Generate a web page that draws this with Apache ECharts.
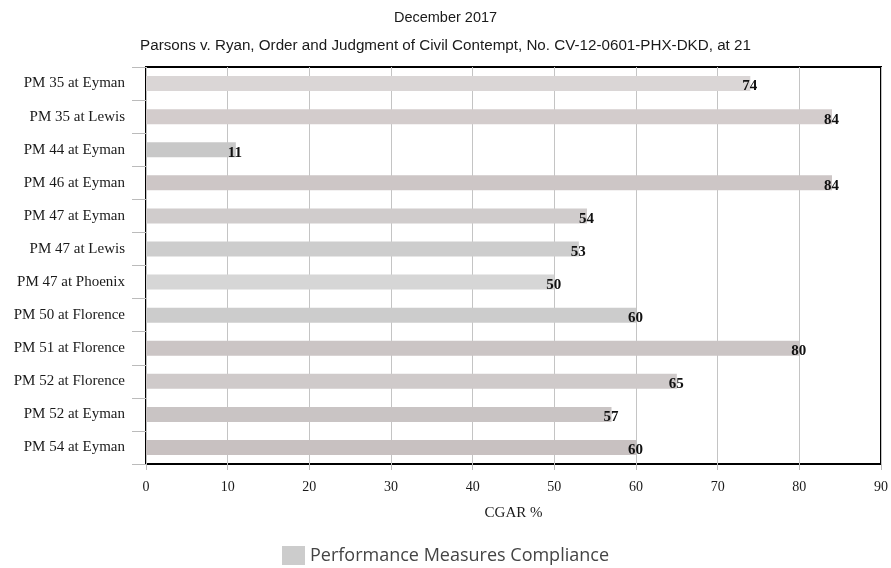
<!DOCTYPE html>
<html>
<head>
<meta charset="utf-8">
<script src="https://cdn.jsdelivr.net/npm/echarts@6/dist/echarts.min.js"></script>
<style>html,body{margin:0;padding:0;background:#fff}#c{width:891px;height:568px}</style>
</head>
<body>
<div id="c"></div>
<script>
var categories = ["PM 35 at Eyman","PM 35 at Lewis","PM 44 at Eyman","PM 46 at Eyman","PM 47 at Eyman","PM 47 at Lewis","PM 47 at Phoenix","PM 50 at Florence","PM 51 at Florence","PM 52 at Florence","PM 52 at Eyman","PM 54 at Eyman"];
var values = [74,84,11,84,54,53,50,60,80,65,57,60];
var barColors = ["#dad6d6","#d3cccc","#c8c8c8","#cdc6c6","#d0cccc","#cdcdcd","#d6d6d6","#cccccc","#cbc5c5","#cfcaca","#c9c4c4","#c8c1c1"];
var seriesName = "Performance Measures Compliance";

var chart = echarts.init(document.getElementById('c'));
var serif = '"Liberation Serif", "Times New Roman", serif';
var sans = '"Liberation Sans", Arial, sans-serif';
chart.setOption({
  animation: false,
  backgroundColor: '#fff',
  title: [
    {text: 'December 2017', left: 'center', top: 5, textStyle: {fontFamily: sans, fontSize: 14.5, fontWeight: 'normal', color: '#1a1a1a'}},
    {text: 'Parsons v. Ryan, Order and Judgment of Civil Contempt, No. CV-12-0601-PHX-DKD, at 21', left: 'center', top: 33, textStyle: {fontFamily: sans, fontSize: 15.2, fontWeight: 'normal', color: '#1a1a1a'}}
  ],
  legend: {
    bottom: -2, left: 'center',
    itemWidth: 23, itemHeight: 19, itemGap: 10, icon: 'rect',
    data: [{name: seriesName, itemStyle: {color: '#cccccc'}}],
    textStyle: {fontFamily: '"Open Sans", "DejaVu Sans", sans-serif', fontSize: 18, color: '#444'}
  },
  grid: {left: 146, right: 8, top: 67, bottom: 104, show: true, borderColor: '#000', borderWidth: 2, containLabel: false},
  xAxis: {
    type: 'value', min: 0, max: 90, interval: 10,
    name: 'CGAR %', nameLocation: 'middle', nameGap: 42,
    nameTextStyle: {fontFamily: serif, fontSize: 15, color: '#1a1a1a'},
    axisLine: {show: false},
    axisTick: {show: true, length: 6, lineStyle: {color: '#bbb'}},
    axisLabel: {fontFamily: serif, fontSize: 14, color: '#1a1a1a', margin: 16},
    splitLine: {show: true, lineStyle: {color: '#c4c4c4', width: 1}}
  },
  yAxis: {
    type: 'category', data: categories, inverse: true,
    axisLine: {show: false},
    axisTick: {show: true, length: 14, lineStyle: {color: '#bbb'}},
    axisLabel: {fontFamily: serif, fontSize: 15, color: '#1a1a1a', margin: 21, lineHeight: 20, padding: [4, 0, 0, 0]},
    splitLine: {show: false}
  },
  series: [{
    name: seriesName, type: 'bar', barWidth: 15,
    data: values.map(function(v, i){ return {value: v, itemStyle: {color: barColors[i]}}; }),
    label: {show: true, position: 'right', distance: 0, offset: [-8, 3],
      fontFamily: serif, fontSize: 15, fontWeight: 'bold', color: '#111'}
  }]
});
</script>
</body>
</html>
